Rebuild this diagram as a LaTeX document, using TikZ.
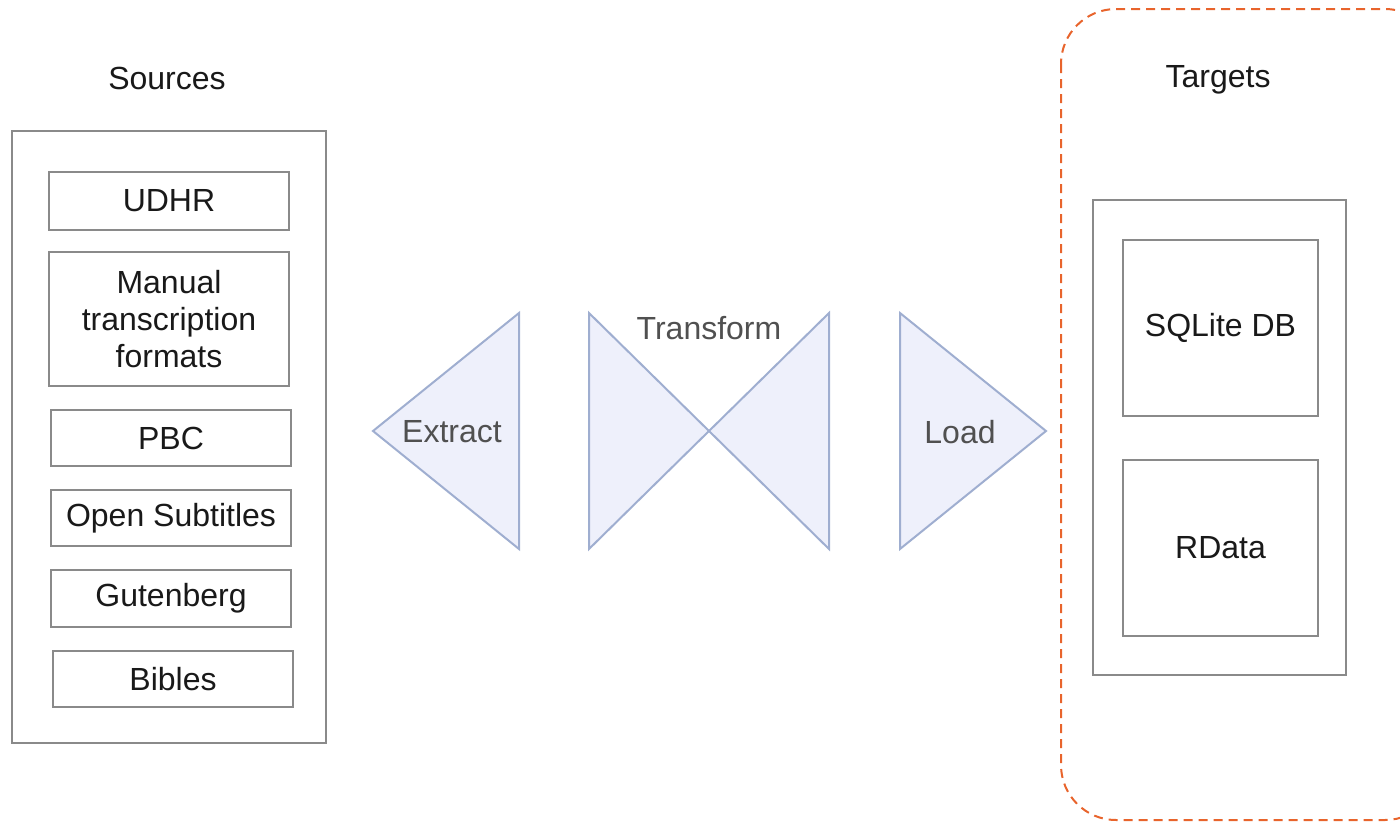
\documentclass[tikz,border=0pt]{standalone}
\usepackage{fontspec}
\setmainfont{Liberation Sans}
\definecolor{boxline}{HTML}{8A8A8A}
\definecolor{triline}{HTML}{9FAED0}
\definecolor{trifill}{HTML}{EEF0FB}
\definecolor{tritext}{HTML}{505050}
\definecolor{dashorange}{HTML}{E8642C}
\begin{document}
\begin{tikzpicture}[x=1pt,y=-1pt,
  every node/.style={font=\fontsize{32}{37}\selectfont, text=black!90},
  box/.style={draw=boxline, line width=1.5pt, inner sep=0pt, align=center},
  tri/.style={draw=triline, fill=trifill, line width=2pt, line join=miter},
  trilabel/.style={text=tritext, inner sep=0pt}]
\useasboundingbox (0,0) rectangle (1400,822);
\clip (0,0) rectangle (1400,822);

% Sources column
\node (srclabel) at (167,78) {Sources};
\node[box, minimum width=314pt, minimum height=612pt] (sources) at (169,437) {};
\node[box, minimum width=240pt, minimum height=58pt] (udhr) at (169,201) {UDHR};
\node[box, minimum width=240pt, minimum height=134pt] (manual) at (169,319)
  {Manual\\transcription\\formats};
\node[box, minimum width=240pt, minimum height=56pt] (pbc) at (171,438) {PBC};
\node[box, minimum width=240pt, minimum height=56pt] (opensub) at (171,518) {Open Subtitles};
\node[box, minimum width=240pt, minimum height=57pt] (gutenberg) at (171,598.5) {Gutenberg};
\node[box, minimum width=240pt, minimum height=56pt] (bibles) at (173,679) {Bibles};

% ETL stages
\draw[tri] (519,313) -- (519,549) -- (373,431) -- cycle;
\node[trilabel] (extract) at (452,432) {Extract};

\draw[tri] (589,313) -- (709,431) -- (589,549) -- cycle;
\draw[tri] (829,313) -- (829,549) -- (709,431) -- cycle;
\node[trilabel] (transform) at (709,328) {Transform};

\draw[tri] (900,313) -- (1046,431) -- (900,549) -- cycle;
\node[trilabel] (load) at (960,432) {Load};

% Targets column
\draw[dashorange, line width=2pt, dash pattern=on 9pt off 6pt, rounded corners=55pt]
  (1061,9) rectangle (1440,820);
\node (tgtlabel) at (1218,80) {Targets};
\node[box, minimum width=253pt, minimum height=475pt] (targets) at (1219.5,437.5) {};
\node[box, minimum width=195pt, minimum height=176pt] (sqlite) at (1220.5,328) {SQLite DB};
\node[box, minimum width=195pt, minimum height=176pt] (rdata) at (1220.5,548) {RData};
\end{tikzpicture}
\end{document}
